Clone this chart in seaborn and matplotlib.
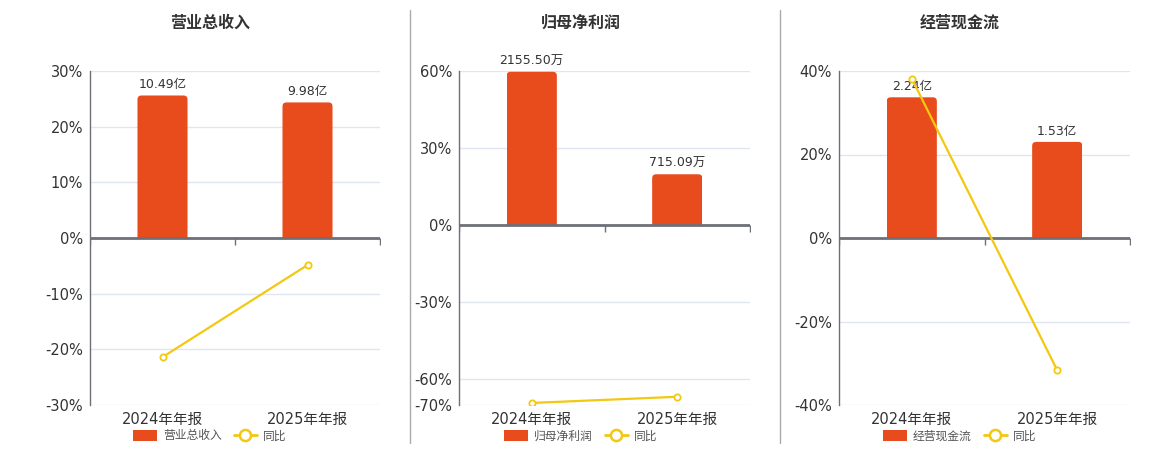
import numpy as np
import pandas as pd
import seaborn as sns
import matplotlib.pyplot as plt
from matplotlib import markers
from matplotlib.lines import Line2D
from matplotlib.patches import Patch, FancyBboxPatch, Rectangle

# data
periods = ['2024年年报', '2025年年报']
revenue = [10.49, 9.98]          # 亿
revenue_yoy = [-21.4, -4.86]      # %
profit = [2155.50, 715.09]        # 万
profit_yoy = [-69.2, -66.8]
cashflow = [2.24, 1.53]           # 亿
cashflow_yoy = [38.2, -31.7]

BAR = '#E84B1C'
LINE = '#F2C811'
AXIS = '#6E7079'
GRID = '#E0E6F1'
TEXT = '#333333'
W, H = 1160, 450

sns.set_theme(style='white')
plt.rcParams['font.family'] = ['DejaVu Sans', 'Noto Sans CJK SC']

panels = [
    dict(title='营业总收入', values=revenue, yoy=revenue_yoy, unit='亿',
         bar_top=25.6, ylim=(-30, 30), ticks=[-30, -20, -10, 0, 10, 20, 30],
         left=90, right=380, center=210),
    dict(title='归母净利润', values=profit, yoy=profit_yoy, unit='万',
         bar_top=59.7, ylim=(-70, 60), ticks=[-70, -60, -30, 0, 30, 60],
         left=459, right=750, center=581),
    dict(title='经营现金流', values=cashflow, yoy=cashflow_yoy, unit='亿',
         bar_top=33.7, ylim=(-40, 40), ticks=[-40, -20, 0, 20, 40],
         left=839, right=1130, center=960),
]

fig = plt.figure(figsize=(W / 100, H / 100), dpi=100)
top_px, bot_px = 71, 405

for p in panels:
    rect = [p['left'] / W, 1 - bot_px / H, (p['right'] - p['left']) / W, (bot_px - top_px) / H]
    ax_bar = fig.add_axes(rect)
    df = pd.DataFrame({'period': periods, 'value': p['values']})
    sns.barplot(data=df, x='period', y='value', ax=ax_bar, color=BAR,
                width=0.345, saturation=1)
    # bar axis scaled so that its zero sits on the 0% line
    s = p['values'][0] / p['bar_top']
    ax_bar.set_ylim(p['ylim'][0] * s, p['ylim'][1] * s)
    ax_bar.set_xlim(-0.5, len(periods) - 0.5)
    ax_bar.set_yticks(np.array(p['ticks']) * s)
    ax_bar.set_yticklabels([])
    ax_bar.grid(axis='y', color=GRID, lw=1)
    ax_bar.grid(axis='x', visible=False)
    ax_bar.tick_params(axis='y', length=0)
    ax_bar.tick_params(axis='x', length=0, labelsize=10.5, labelcolor=TEXT, pad=5)
    ax_bar.set_xlabel('')
    ax_bar.set_ylabel('')
    for sp in ax_bar.spines.values():
        sp.set_visible(False)
    labels = [f'{v:.2f}{p["unit"]}' for v in p['values']]
    ax_bar.bar_label(ax_bar.containers[0], labels=labels, padding=3,
                     fontsize=9, color=TEXT)

    # round the top corners of the bars (about 4 px)
    xpx = (p['right'] - p['left']) / len(periods)
    ypx = (bot_px - top_px) / ((p['ylim'][1] - p['ylim'][0]) * s)
    aspect = xpx / ypx
    rx = 4 / xpx
    for bar in ax_bar.containers[0]:
        x0, w, h = bar.get_x(), bar.get_width(), bar.get_height()
        ext = rx * aspect
        fb = FancyBboxPatch((x0, -ext), w, h + ext,
                            boxstyle=f'round,pad=0,rounding_size={rx}',
                            mutation_aspect=aspect, facecolor=BAR,
                            edgecolor='none', zorder=bar.get_zorder())
        ax_bar.add_patch(fb)
        fb.set_clip_path(Rectangle((x0, 0), w, 2 * h, transform=ax_bar.transData))
        bar.set_visible(False)

    ax_pct = ax_bar.twinx()
    ax_pct.yaxis.tick_left()
    ax_pct.set_ylim(*p['ylim'])
    ax_pct.set_yticks(p['ticks'])
    ax_pct.set_yticklabels([f'{t}%' for t in p['ticks']])
    ax_pct.tick_params(axis='y', length=0, labelsize=10.5, labelcolor=TEXT, pad=5)
    ax_pct.grid(False)
    for name, sp in ax_pct.spines.items():
        sp.set_visible(name == 'left')
    ax_pct.spines['left'].set_color(AXIS)
    ax_pct.spines['left'].set_linewidth(1)
    ax_pct.axhline(0, color=AXIS, lw=2, zorder=2)
    edges = np.arange(len(periods) + 1) - 0.5
    ax_pct.plot(edges, np.zeros_like(edges), ls='none', marker=markers.TICKDOWN,
                ms=5, mew=1, color=AXIS, zorder=2)
    sns.lineplot(x=np.arange(len(periods)), y=p['yoy'], ax=ax_pct, color=LINE,
                 lw=1.6, marker='o', ms=4.5, mfc='white', mec=LINE, mew=1.3, zorder=3)
    ax_pct.set_xlim(-0.5, len(periods) - 0.5)
    ax_pct.set_ylabel('')

    fig.text(p['center'] / W, 1 - 23 / H, p['title'], ha='center', va='center',
             fontsize=11.5, fontweight='bold', color=TEXT)
    handles = [Patch(facecolor=BAR, edgecolor='none'),
               Line2D([], [], color=LINE, lw=2, marker='o', ms=8,
                      mfc='white', mec=LINE, mew=1.8)]
    fig.legend(handles, [p['title'], '同比'], loc='center',
               bbox_to_anchor=(p['center'] / W, 1 - 436 / H), ncol=2,
               frameon=False, fontsize=8.5, handlelength=2, handleheight=1,
               handletextpad=0.5, columnspacing=1, labelcolor='#555555')

for x in (410, 780):
    fig.add_artist(Line2D([x / W, x / W], [1 - 10 / H, 1 - 443 / H],
                          color='#AAAAAA', lw=1, transform=fig.transFigure))

fig.savefig('out.png', dpi=100)
